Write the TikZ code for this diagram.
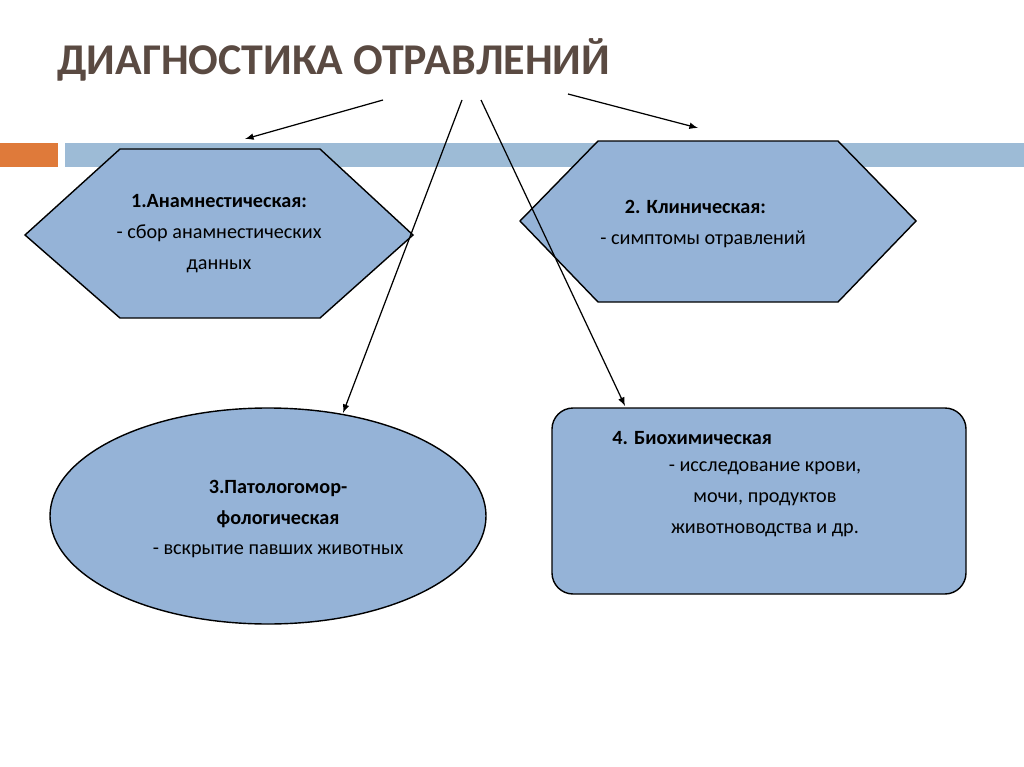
\documentclass[tikz,border=0pt]{standalone}
\usepackage{fontspec}
\setmainfont{Carlito}
\begin{document}
\begin{tikzpicture}[x=0.02cm,y=-0.02cm,
  shp/.style={draw=black,fill=boxblue,line width=0.8pt},
  arr/.style={-latex,line width=0.7pt},
  txt/.style={font=\fontsize{11.5}{17.6}\selectfont,align=center,inner sep=0pt}]
\definecolor{boxblue}{HTML}{95B3D7}
\definecolor{barblue}{HTML}{9DBBD6}
\definecolor{barorange}{HTML}{DF7A3A}
\definecolor{titlecol}{HTML}{5A4A42}
\useasboundingbox (0,0) rectangle (1024,767);
\fill[barorange] (0,143) rectangle (58,167);
\fill[barblue] (65,143) rectangle (1024,167);
\node[anchor=west,inner sep=0pt,font=\bfseries\fontsize{25}{30}\selectfont,text=titlecol] (title) at (57,60) {ДИАГНОСТИКА ОТРАВЛЕНИЙ};
\draw[shp] (25,235)--(120,149)--(320,149)--(413,235)--(320,318)--(120,318)--cycle;
\draw[shp] (520,221)--(598,141)--(838,141)--(916,221)--(838,302)--(598,302)--cycle;
\draw[shp] (268,516) ellipse [x radius=218,y radius=108];
\draw[shp,rounded corners=12] (552,408) rectangle (966,594);
\node[txt] (t1) at (219,234) {\textbf{1.Анамнестическая:}\\- сбор анамнестических\\данных};
\node[txt,align=left,anchor=north west] (t2) at (600,200) {\hspace*{14pt}\textbf{2. Клиническая:}\\- симптомы отравлений};
\node[txt] (t3) at (278,519) {\textbf{3.Патологомор-}\\\textbf{фологическая}\\- вскрытие павших животных};
\node[txt,anchor=west] (t4a) at (612,438) {\textbf{4. Биохимическая}};
\node[txt] (t4) at (765,499) {- исследование крови,\\мочи, продуктов\\животноводства и др.};
\coordinate (s1) at (383,100); \coordinate (e1) at (245,139);
\coordinate (s2) at (462,100); \coordinate (e2) at (343,413);
\coordinate (s3) at (481,100); \coordinate (e3) at (625,406);
\coordinate (s4) at (568,94);  \coordinate (e4) at (698,128);
\draw[arr] (s1)--(e1);
\draw[arr] (s2)--(e2);
\draw[arr] (s3)--(e3);
\draw[arr] (s4)--(e4);
\end{tikzpicture}
\end{document}
